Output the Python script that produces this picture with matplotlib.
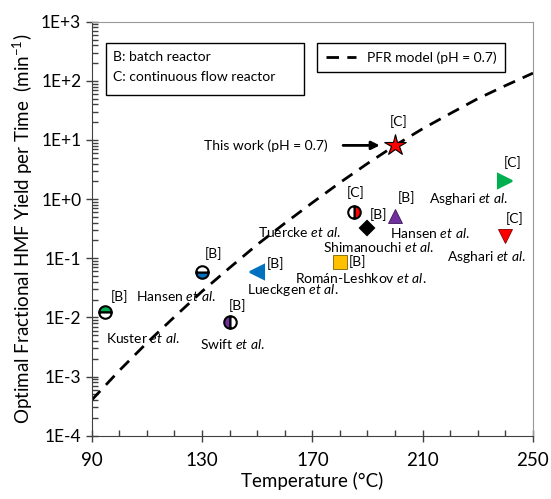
import numpy as np
import matplotlib
matplotlib.use('Agg')
import matplotlib.pyplot as plt
from matplotlib.ticker import MultipleLocator, FixedLocator, FuncFormatter, NullFormatter
from matplotlib.patches import Rectangle

plt.rcParams['font.family'] = ['Lato', 'DejaVu Sans']
plt.rcParams['mathtext.fontset'] = 'custom'
plt.rcParams['mathtext.rm'] = 'Lato'
plt.rcParams['mathtext.it'] = 'Lato:italic'

# PFR model curve
model_T = [90, 100, 110, 120, 130, 140, 150, 160, 170, 180, 190, 200, 210, 220, 230, 240, 250]
model_rate = [4.0e-4, 1.26e-3, 3.7e-3, 1.02e-2, 2.75e-2, 6.9e-2, 0.17, 0.39, 0.87,
              1.9, 4.0, 8.1, 15.5, 28, 50, 83, 135]

# literature points
authors = ['Kuster', 'Hansen', 'Swift', 'Lueckgen', 'Román-Leshkov', 'Tuercke',
           'Shimanouchi', 'Hansen', 'Asghari', 'Asghari']
temps = [95, 130, 140, 150, 180, 185, 190, 200, 240, 240]
rates = [0.0122, 0.058, 0.0085, 0.058, 0.087, 0.60, 0.32, 0.51, 2.0, 0.24]
reactor = ['B', 'B', 'B', 'B', 'B', 'C', 'B', 'B', 'C', 'C']

# this work
this_T = 200
this_rate = 8.1

x_ticks = [90, 130, 170, 210, 250]
y_decades = [-4, -3, -2, -1, 0, 1, 2, 3]

# marker style, [tag] offset (px), name offset (px)
styles = [
    dict(marker='o', ms=9, mfc='#00B050', mfcalt='white', fillstyle='top'),
    dict(marker='o', ms=9, mfc='#0070C0', mfcalt='white', fillstyle='bottom'),
    dict(marker='o', ms=9, mfc='#7030A0', mfcalt='white', fillstyle='left'),
    dict(marker='<', ms=10, mfc='#0070C0', mec='#0070C0'),
    dict(marker='s', ms=10, mfc='#FFC000', mec='#7f6000', mew=0.6),
    dict(marker='o', ms=9, mfc='#FF0000', mfcalt='white', fillstyle='right'),
    dict(marker='D', ms=7, mfc='black'),
    dict(marker='^', ms=10, mfc='#7030A0', mec='#3d1a5a', mew=0.6),
    dict(marker='>', ms=10, mfc='#00B050', mec='#00B050'),
    dict(marker='v', ms=10, mfc='#FF0000', mec='#800000', mew=0.6),
]
tag_off = [(14, 16), (11, 19), (8, 16), (18, 9), (18, 0), (2, 20), (11, 14), (11, 19), (7, 19), (9, 17)]
name_off = [(37, -26), (-26, -24), (3, -22), (36, -18), (21, -16), (-54, -20), (11, -19),
            (35, -17), (-37, -18), (-19, -21)]

fig = plt.figure(figsize=(5.51, 4.99), dpi=100)
ax = fig.add_axes([0.1664, 0.1269, 0.8009, 0.8296])

ax.plot(model_T, model_rate, color='black', lw=2, dashes=(4.5, 3), label='PFR model (pH = 0.7)')

for i in range(len(temps)):
    st = dict(styles[i])
    alt = st.pop('mfcalt', None)
    ms = st.pop('ms')
    mfc = st.pop('mfc')
    mec = st.pop('mec', 'black')
    mew = st.pop('mew', 1.5)
    kw = dict(markersize=ms, markerfacecolor=mfc, markeredgecolor=mec, markeredgewidth=mew, ls='none')
    if alt is not None:
        kw['markerfacecoloralt'] = alt
    ax.plot(temps[i], rates[i], **kw, **st, zorder=4)
    ax.annotate('[%s]' % reactor[i], (temps[i], rates[i]), xytext=tag_off[i],
                textcoords='offset pixels', ha='center', va='center', fontsize=10)
    ax.annotate(authors[i] + r' $\it{et\ al.}$', (temps[i], rates[i]), xytext=name_off[i],
                textcoords='offset pixels', ha='center', va='center', fontsize=10)

ax.plot(this_T, this_rate, marker='*', ms=16, mfc='#FF0000', mec='black', mew=0.8, ls='none', zorder=5)
ax.annotate('[C]', (this_T, this_rate), xytext=(4, 24), textcoords='offset pixels',
            ha='center', va='center', fontsize=10)
ax.annotate('This work (pH = 0.7)', (this_T, this_rate), xytext=(-129, 0), textcoords='offset pixels',
            ha='center', va='center', fontsize=10)
ax.annotate('', xy=(this_T, this_rate), xytext=(-52, 0), textcoords='offset pixels',
            arrowprops=dict(arrowstyle='-|>', color='black', lw=2, mutation_scale=12, shrinkA=0, shrinkB=11))

ax.set_yscale('log')
ax.set_xlim(90, 250)
ax.set_ylim(1e-4, 1e3)
ax.set_xticks(x_ticks)
ax.xaxis.set_minor_locator(MultipleLocator(10))
ax.yaxis.set_major_locator(FixedLocator([10.0 ** d for d in y_decades]))
ax.yaxis.set_minor_locator(FixedLocator([m * 10.0 ** d for d in y_decades[:-1] for m in range(2, 10)]))
ax.yaxis.set_minor_formatter(NullFormatter())
ax.yaxis.set_major_formatter(FuncFormatter(lambda v, p: '1E%+d' % int(round(np.log10(v)))))
ax.tick_params(which='major', direction='inout', length=8, width=1, colors='#404040',
               labelcolor='black')
ax.tick_params(axis='y', labelsize=12.5)
ax.tick_params(axis='x', labelsize=13.5, pad=8)
ax.tick_params(which='minor', direction='in', length=4, width=1, colors='#404040')

for s in ['left', 'bottom']:
    ax.spines[s].set_color('#404040')
for s in ['top', 'right']:
    ax.spines[s].set_color('#999999')

ax.set_xlabel('Temperature (°C)', fontsize=13.5, labelpad=2)
ax.set_ylabel(r'Optimal Fractional HMF Yield per Time  (min$^{-1}$)', fontsize=13.5, labelpad=4)

# reactor key box
ax.add_patch(Rectangle((0.032, 0.823), 0.449, 0.126, transform=ax.transAxes, fill=False,
                       ec='black', lw=1, zorder=5))
ax.text(0.049, 0.915, 'B: batch reactor', transform=ax.transAxes, va='center', fontsize=10)
ax.text(0.049, 0.867, 'C: continuous flow reactor', transform=ax.transAxes, va='center', fontsize=10)

leg = ax.legend(loc='upper left', bbox_to_anchor=(0.511, 0.949), fancybox=False, edgecolor='black',
                fontsize=10, borderaxespad=0, handlelength=2.2, framealpha=1, borderpad=0.6)
leg.get_frame().set_linewidth(1)

fig.savefig('out.png', dpi=100)
